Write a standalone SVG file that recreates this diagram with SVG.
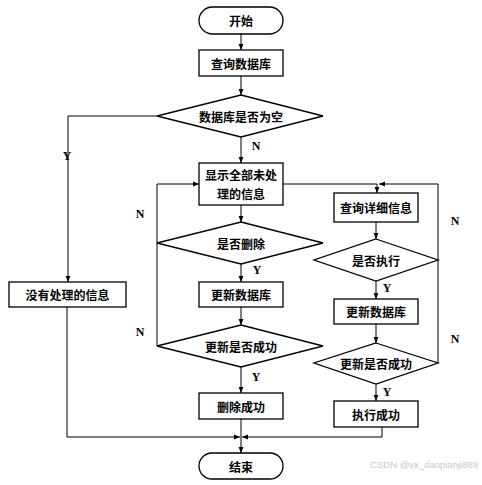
<svg xmlns="http://www.w3.org/2000/svg" width="482" height="485" viewBox="0 0 482 485">
<defs>
<marker id="ah" viewBox="0 0 10 10" refX="10" refY="5" markerWidth="6" markerHeight="6" orient="auto" markerUnits="userSpaceOnUse">
<path d="M0,1 L10,5 L0,9 z" fill="#000"/>
</marker>
<style>
.s{fill:#fff;stroke:#000;stroke-width:1.3}
.t{font-family:"Noto Sans CJK SC","Liberation Serif",serif;font-size:12px;font-weight:bold;text-anchor:middle;dominant-baseline:central;fill:#000}
.c{fill:none;stroke:#000;stroke-width:1}
.a{marker-end:url(#ah)}
.l{font-family:"Liberation Serif",serif;font-size:12px;font-weight:bold;fill:#000;text-anchor:middle;dominant-baseline:central}
</style>
</defs>
<rect width="482" height="485" fill="#fff"/>
<g id="connectors">
<path class="c a" d="M241,34 V50"/>
<path class="c a" d="M241,76 V95"/>
<path class="c a" d="M241,137 V163"/>
<path class="c a" d="M157,116 H68 V282"/>
<path class="c a" d="M241,205 V222"/>
<path class="c a" d="M241,264 V282"/>
<path class="c a" d="M241,307 V325"/>
<path class="c a" d="M241,367 V393"/>
<path class="c a" d="M241,419 V453"/>
<path class="c a" d="M157,346 V184 H199"/>
<path class="c a" d="M283,184 H377 V193"/>
<path class="c a" d="M438,363 V184 H379"/>
<path class="c a" d="M376,222 V239"/>
<path class="c a" d="M376,281 V299"/>
<path class="c a" d="M376,324 V343"/>
<path class="c a" d="M376,384 V401"/>
<path class="c a" d="M67,307 V437 H240"/>
<path class="c a" d="M382,427 V437 H242"/>
</g>
<g id="labels">
<text class="l" x="256" y="146">N</text>
<text class="l" x="67" y="156">Y</text>
<text class="l" x="140" y="214">N</text>
<text class="l" x="257" y="270">Y</text>
<text class="l" x="140" y="332">N</text>
<text class="l" x="256" y="377">Y</text>
<text class="l" x="455" y="221">N</text>
<text class="l" x="387" y="288">Y</text>
<text class="l" x="455" y="339">N</text>
<text class="l" x="387" y="392">Y</text>
</g>
<g id="start"><rect class="s" x="199" y="7" width="84" height="27" rx="13.5"/><text class="t" x="241" y="20.5">开始</text></g>
<g id="query"><rect class="s" x="199" y="50" width="84" height="26"/><text class="t" x="241" y="63">查询数据库</text></g>
<g id="isEmpty"><polygon class="s" points="241,95 323,116 241,137 157,116"/><text class="t" x="241" y="116">数据库是否为空</text></g>
<g id="none"><rect class="s" x="9" y="282" width="117" height="25"/><text class="t" x="67.5" y="294.5">没有处理的信息</text></g>
<g id="showAll"><rect class="s" x="199" y="163" width="84" height="42"/><text class="t" x="241" y="174">显示全部未处</text><text class="t" x="241" y="193">理的信息</text></g>
<g id="isDelete"><polygon class="s" points="241,222 323,243 241,264 157,243"/><text class="t" x="241" y="243">是否删除</text></g>
<g id="updateL"><rect class="s" x="199" y="282" width="84" height="25"/><text class="t" x="241" y="294.5">更新数据库</text></g>
<g id="successL"><polygon class="s" points="241,325 323,346 241,367 157,346"/><text class="t" x="241" y="346">更新是否成功</text></g>
<g id="deleted"><rect class="s" x="199" y="393" width="84" height="26"/><text class="t" x="241" y="406">删除成功</text></g>
<g id="detail"><rect class="s" x="334" y="193" width="84" height="29"/><text class="t" x="376" y="207.5">查询详细信息</text></g>
<g id="isExec"><polygon class="s" points="376,239 438,260 376,281 314,260"/><text class="t" x="376" y="260">是否执行</text></g>
<g id="updateR"><rect class="s" x="334" y="299" width="84" height="25"/><text class="t" x="376" y="311.5">更新数据库</text></g>
<g id="successR"><polygon class="s" points="376,343 438,363 376,384 314,363"/><text class="t" x="376" y="363.5">更新是否成功</text></g>
<g id="executed"><rect class="s" x="334" y="401" width="84" height="26"/><text class="t" x="376" y="414">执行成功</text></g>
<g id="end"><rect class="s" x="199" y="453" width="84" height="26" rx="13"/><text class="t" x="241" y="466">结束</text></g>
<text x="478" y="468" font-family="Liberation Sans, sans-serif" font-size="9.5" fill="#c8c8c8" text-anchor="end">CSDN @vx_danpianji889</text>
</svg>
